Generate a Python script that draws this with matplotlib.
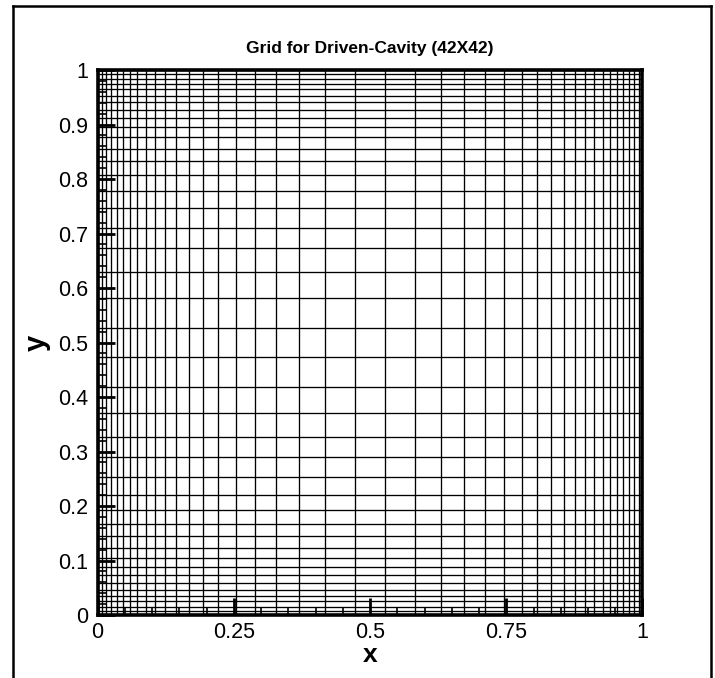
import matplotlib
matplotlib.use("Agg")
import matplotlib.pyplot as plt
from matplotlib.ticker import MultipleLocator
from matplotlib.lines import Line2D

plt.rcParams['font.family'] = ['Liberation Sans', 'DejaVu Sans']

title = "Grid for Driven-Cavity (42X42)"
x_label = "x"
y_label = "y"

# grid line positions (42 in each direction)
grid_x = [0.0, 0.0073, 0.0156, 0.0248, 0.0349, 0.0468, 0.0591, 0.0730, 0.0881,
          0.1051, 0.1235, 0.1446, 0.1675, 0.1927, 0.2211, 0.2539, 0.2892, 0.3273,
          0.3699, 0.4183, 0.4728, 0.5272, 0.5817, 0.6301, 0.6727, 0.7108, 0.7461,
          0.7789, 0.8073, 0.8325, 0.8554, 0.8765, 0.8949, 0.9119, 0.9270, 0.9409,
          0.9532, 0.9651, 0.9752, 0.9844, 0.9927, 1.0]
grid_y = [0.0, 0.0073, 0.0156, 0.0248, 0.0349, 0.0468, 0.0591, 0.0730, 0.0881,
          0.1051, 0.1235, 0.1446, 0.1675, 0.1927, 0.2211, 0.2539, 0.2892, 0.3273,
          0.3699, 0.4183, 0.4728, 0.5272, 0.5817, 0.6301, 0.6727, 0.7108, 0.7461,
          0.7789, 0.8073, 0.8325, 0.8554, 0.8765, 0.8949, 0.9119, 0.9270, 0.9409,
          0.9532, 0.9651, 0.9752, 0.9844, 0.9927, 1.0]

x_ticks = [0, 0.25, 0.5, 0.75, 1]
x_tick_labels = ["0", "0.25", "0.5", "0.75", "1"]
y_ticks = [0, 0.1, 0.2, 0.3, 0.4, 0.5, 0.6, 0.7, 0.8, 0.9, 1]
y_tick_labels = ["0", "0.1", "0.2", "0.3", "0.4", "0.5", "0.6", "0.7", "0.8", "0.9", "1"]

fig = plt.figure(figsize=(7.15, 6.78), dpi=100)
ax = fig.add_axes([0.1364, 0.0929, 0.7622, 0.8038])

for gx in grid_x:
    ax.axvline(gx, color='black', lw=0.95, zorder=1)
for gy in grid_y:
    ax.axhline(gy, color='black', lw=0.95, zorder=1)

ax.set_xlim(0, 1)
ax.set_ylim(0, 1)
ax.set_xticks(x_ticks)
ax.set_xticklabels(x_tick_labels)
ax.set_yticks(y_ticks)
ax.set_yticklabels(y_tick_labels)
ax.xaxis.set_minor_locator(MultipleLocator(0.05))
ax.yaxis.set_minor_locator(MultipleLocator(0.02))
ax.tick_params(which='major', direction='in', length=12, width=2, labelsize=15.5,
               top=False, right=False)
ax.tick_params(axis='x', which='major', pad=5)
ax.tick_params(axis='y', which='major', pad=7)
ax.tick_params(which='minor', direction='in', length=6, width=1.2, top=False, right=False)

for s in ax.spines.values():
    s.set_linewidth(2.6)
    s.set_zorder(3)

ax.set_xlabel(x_label, fontsize=19, fontweight='bold', labelpad=0)
ax.set_ylabel(y_label, fontsize=21, fontweight='bold', labelpad=5)
ax.set_title(title, fontsize=12.5, fontweight='bold', pad=12)

# figure frame (open at the bottom)
W, H = 715, 678
fl = 13 / W
fr = 711 / W
ft = 1 - 6 / H
fig.add_artist(Line2D([fl, fl], [0, ft], transform=fig.transFigure, color='black', lw=1.8))
fig.add_artist(Line2D([fr, fr], [0, ft], transform=fig.transFigure, color='black', lw=1.8))
fig.add_artist(Line2D([fl, fr], [ft, ft], transform=fig.transFigure, color='black', lw=1.8))

fig.savefig("out.png", dpi=100)
